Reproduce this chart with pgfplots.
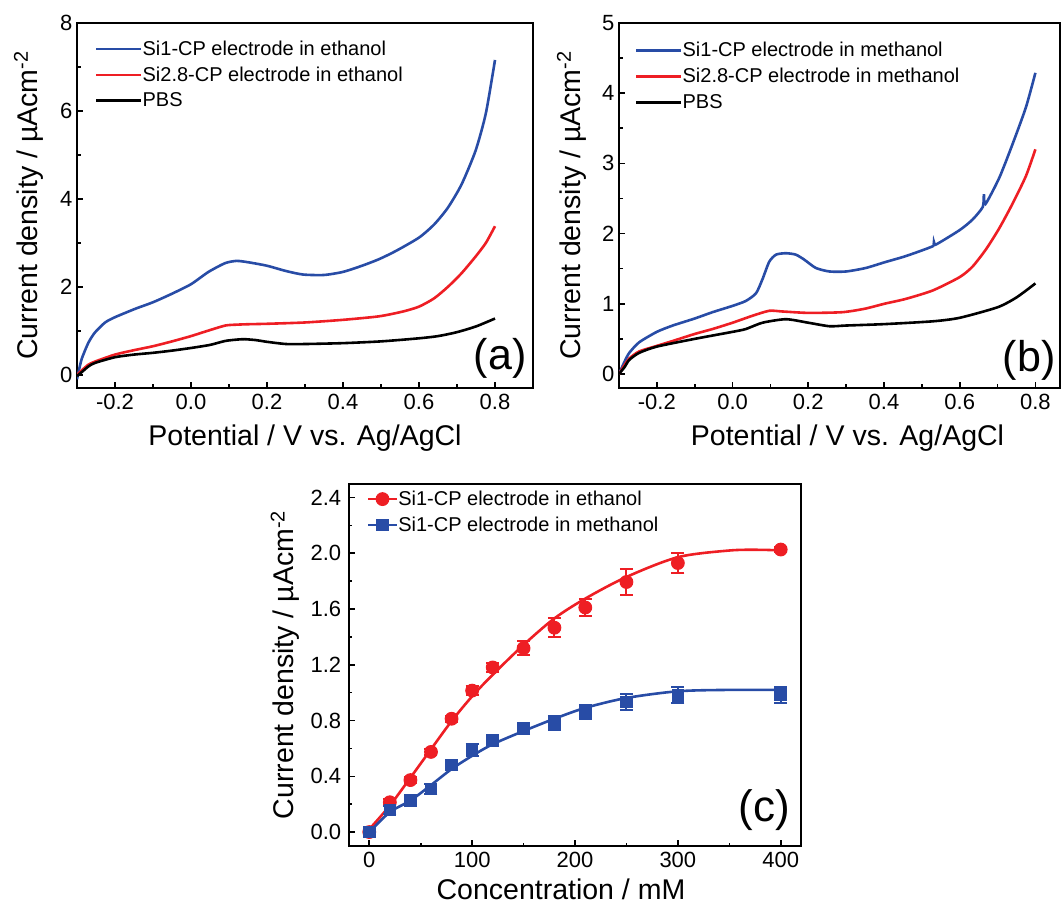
\documentclass[border=0pt]{standalone}
\usepackage{fontspec}
\setmainfont{Liberation Sans}
\usepackage{pgfplots}
\pgfplotsset{compat=1.18}

\definecolor{cpblue}{RGB}{40,76,166}
\definecolor{cpred}{RGB}{238,30,36}

\pgfplotsset{
  panel/.style={
    scale only axis,
    axis line style={line width=1.8pt},
    every tick/.style={line width=1.6pt, black},
    tick align=inside,
    xtick pos=bottom, ytick pos=left,
    major tick length=6pt, minor tick length=3.5pt,
    minor x tick num=1, minor y tick num=1,
    /pgf/number format/assume math mode=true,
    tick label style={font=\fontsize{22}{26}\selectfont},
    xticklabel style={yshift=-3pt},
    yticklabel style={xshift=-1pt},
    label style={font=\fontsize{28.5}{32}\selectfont},
    ylabel={Current density / µAcm\textsuperscript{-2}},
    legend cell align=left,
    legend style={draw=none, fill=none, inner sep=0pt, outer sep=0pt,
      font=\fontsize{20}{24}\selectfont,
      nodes={inner sep=0pt}, row sep=10pt},
  },
  cv/.style={line width=2.6pt, smooth, tension=0.4},
  cvlegend/.style={legend image code/.code={\draw[##1] (0pt,0pt) -- (45pt,0pt);}},
  dotlegend/.style={legend image code/.code={
    \draw[##1, mark=none] (0pt,0pt) -- (29pt,0pt);
    \draw[##1] plot coordinates {(14.5pt,0pt)};}},
  ebars/.style={error bars/.cd, y dir=both, y explicit,
    error bar style={line width=2pt},
    error mark options={rotate=90, line width=2pt, mark size=6.5pt}},
}

\begin{document}
\begin{tikzpicture}[x=1pt,y=1pt]
\useasboundingbox (0,0) rectangle (1062,903);

% ---------------- (a) ethanol ----------------
\begin{axis}[panel, cvlegend,
  at={(77pt,515pt)}, anchor=south west, width=456pt, height=365pt,
  xmin=-0.3, xmax=0.9, ymin=-0.3, ymax=8,
  xtick={-0.2,0,0.2,0.4,0.6,0.8},
  xticklabels={-0.2,0.0,0.2,0.4,0.6,0.8},
  ytick={0,2,4,6,8},
  xlabel={Potential / V vs. Ag/AgCl},
  xlabel style={at={(axis description cs:0.5,0)}, anchor=base, yshift=-57pt},
  ylabel style={at={(axis description cs:0,0.5)}, anchor=base, yshift=40pt},
  legend style={at={(axis description cs:0,1)}, anchor=north west, xshift=18pt, yshift=-18pt,
    /tikz/every even column/.append style={column sep=7pt}},
]
\addplot[cv, cpblue] coordinates {
(-0.300,-0.10) (-0.288,0.35) (-0.270,0.73) (-0.253,0.96) (-0.226,1.19) (-0.200,1.31)
(-0.147,1.50) (-0.100,1.65) (-0.051,1.84) (0.000,2.06) (0.046,2.34) (0.090,2.54)
(0.120,2.59) (0.150,2.56) (0.200,2.48) (0.250,2.36)
(0.295,2.28) (0.350,2.27) (0.400,2.34) (0.450,2.48) (0.495,2.63) (0.540,2.82)
(0.600,3.12) (0.640,3.42) (0.676,3.80) (0.712,4.33) (0.749,5.10) (0.776,5.95) (0.800,7.16)};
\addlegendentry{Si1-CP electrode in ethanol}
\addplot[cv, cpred] coordinates {
(-0.300,0.00) (-0.285,0.12) (-0.270,0.23) (-0.253,0.30) (-0.200,0.46) (-0.150,0.56)
(-0.100,0.65) (-0.050,0.76) (0.000,0.88) (0.040,0.99) (0.090,1.12) (0.120,1.14)
(0.150,1.15) (0.200,1.16) (0.300,1.19) (0.400,1.25) (0.495,1.33)
(0.558,1.44) (0.600,1.55) (0.640,1.74) (0.676,2.00) (0.712,2.31) (0.749,2.69)
(0.776,3.00) (0.800,3.38)};
\addlegendentry{Si2.8-CP electrode in ethanol}
\addplot[cv, black] coordinates {
(-0.300,-0.03) (-0.285,0.08) (-0.270,0.19) (-0.253,0.27) (-0.200,0.40) (-0.150,0.46)
(-0.100,0.50) (-0.050,0.55) (0.000,0.61) (0.050,0.68) (0.090,0.77) (0.120,0.80)
(0.140,0.81) (0.170,0.79) (0.200,0.75) (0.250,0.70) (0.300,0.70)
(0.400,0.72) (0.500,0.76) (0.600,0.83) (0.650,0.88) (0.700,0.97) (0.750,1.10) (0.800,1.28)};
\addlegendentry{PBS}
\node[font=\fontsize{43}{46}\selectfont, inner sep=0pt] at (rel axis cs:0.928,0.082) {(a)};
\end{axis}

% ---------------- (b) methanol ----------------
\begin{axis}[panel, cvlegend,
  at={(619pt,515pt)}, anchor=south west, width=441pt, height=365pt,
  xmin=-0.3, xmax=0.865, ymin=-0.2, ymax=5,
  xtick={-0.2,0,0.2,0.4,0.6,0.8},
  xticklabels={-0.2,0.0,0.2,0.4,0.6,0.8},
  ytick={0,1,2,3,4,5},
  xlabel={Potential / V vs. Ag/AgCl},
  xlabel style={at={(axis description cs:0.5,0)}, anchor=base, yshift=-57pt, xshift=8pt},
  ylabel style={at={(axis description cs:0,0.5)}, anchor=base, yshift=39pt},
  legend style={at={(axis description cs:0,1)}, anchor=north west, xshift=16pt, yshift=-19.5pt,
    /tikz/every even column/.append style={column sep=7.5pt}},
]
\addplot[cv, cpblue] coordinates {
(-0.300,0.00) (-0.285,0.18) (-0.273,0.30) (-0.247,0.45) (-0.200,0.60) (-0.158,0.69)
(-0.100,0.79) (-0.053,0.88) (0.000,0.97) (0.035,1.04) (0.062,1.15) (0.079,1.35)
(0.097,1.60) (0.115,1.70) (0.141,1.72) (0.167,1.70) (0.189,1.63) (0.220,1.51)
(0.256,1.46) (0.300,1.46) (0.352,1.51) (0.401,1.59) (0.458,1.68) (0.529,1.82)
(0.532,1.88) (0.536,1.84) (0.600,2.05) (0.634,2.20) (0.661,2.38) (0.664,2.56)
(0.668,2.42) (0.705,2.80) (0.740,3.28) (0.775,3.80) (0.800,4.29)};
\addlegendentry{Si1-CP electrode in methanol}
\addplot[cv, cpred] coordinates {
(-0.300,0.00) (-0.285,0.13) (-0.273,0.22) (-0.247,0.32) (-0.200,0.40) (-0.158,0.47)
(-0.100,0.57) (-0.053,0.64) (0.000,0.73) (0.053,0.83) (0.097,0.90) (0.132,0.89)
(0.200,0.87) (0.290,0.88) (0.350,0.93) (0.401,1.00) (0.458,1.07) (0.529,1.19)
(0.600,1.38) (0.634,1.53) (0.670,1.78) (0.705,2.08) (0.740,2.43) (0.775,2.82) (0.800,3.20)};
\addlegendentry{Si2.8-CP electrode in methanol}
\addplot[cv, black] coordinates {
(-0.300,0.00) (-0.285,0.10) (-0.273,0.20) (-0.247,0.30) (-0.200,0.39) (-0.100,0.50)
(0.000,0.60) (0.035,0.64) (0.079,0.73) (0.141,0.78) (0.200,0.73) (0.256,0.68)
(0.300,0.69) (0.401,0.71) (0.529,0.75) (0.600,0.80) (0.700,0.95) (0.750,1.09) (0.800,1.29)};
\addlegendentry{PBS}
\node[font=\fontsize{43}{46}\selectfont, inner sep=0pt] at (rel axis cs:0.930,0.077) {(b)};
\end{axis}

% ---------------- (c) concentration dependence ----------------
\begin{axis}[panel, dotlegend,
  at={(348.7pt,57pt)}, anchor=south west, width=452.6pt, height=362.4pt,
  xmin=-20, xmax=420, ymin=-0.1, ymax=2.5,
  xtick={0,100,200,300,400},
  ytick={0,0.4,0.8,1.2,1.6,2.0,2.4},
  yticklabels={0.0,0.4,0.8,1.2,1.6,2.0,2.4},
  yticklabel style={xshift=-3pt},
  xlabel={Concentration / mM},
  xlabel style={at={(axis description cs:0.5,0)}, anchor=base, yshift=-53pt, xshift=-14pt},
  ylabel style={at={(axis description cs:0,0.5)}, anchor=base, yshift=55pt},
  legend style={at={(axis description cs:0,1)}, anchor=north west, xshift=18pt, yshift=-7.5pt,
    /tikz/every even column/.append style={column sep=8.5pt}},
]
% fitted curves
\addplot[cpred, line width=2.6pt, smooth, forget plot] coordinates {
(0,0.02) (20,0.19) (40,0.39) (60,0.594) (80,0.796) (100,0.974) (120,1.129)
(150,1.343) (180,1.533) (210,1.675) (250,1.83) (300,1.972) (350,2.02) (380,2.025) (400,2.02)};
\addplot[cpblue, line width=2.6pt, smooth, forget plot] coordinates {
(0,0.0) (20,0.143) (40,0.226) (60,0.337) (80,0.452) (100,0.547) (120,0.63)
(150,0.725) (180,0.813) (210,0.891) (250,0.962) (300,1.01) (350,1.02) (400,1.02)};
% measured points with error bars
\addplot[cpred, line width=2.6pt, only marks, mark=*, mark size=6.4pt,
  mark options={line width=1pt}, ebars]
  table[x=c, y=j, y error=e] {
c   j     e
0   0.00  0.01
20  0.214 0.02
40  0.373 0.02
60  0.575 0.02
80  0.813 0.02
100 1.015 0.03
120 1.181 0.03
150 1.319 0.05
180 1.466 0.07
210 1.611 0.06
250 1.794 0.09
300 1.930 0.07
400 2.027 0.015
};
\addlegendentry{Si1-CP electrode in ethanol}
\addplot[cpblue, line width=2.6pt, only marks, mark=square*, mark size=5.8pt,
  mark options={line width=1pt}, ebars]
  table[x=c, y=j, y error=e] {
c   j     e
0   0.00  0.02
20  0.159 0.03
40  0.226 0.03
60  0.309 0.035
80  0.480 0.035
100 0.589 0.04
120 0.658 0.04
150 0.744 0.04
180 0.784 0.05
210 0.860 0.05
250 0.932 0.055
300 0.981 0.058
400 0.986 0.058
};
\addlegendentry{Si1-CP electrode in methanol}
\node[font=\fontsize{44}{46}\selectfont, inner sep=0pt] at (rel axis cs:0.918,0.099) {(c)};
\end{axis}
\end{tikzpicture}
\end{document}
